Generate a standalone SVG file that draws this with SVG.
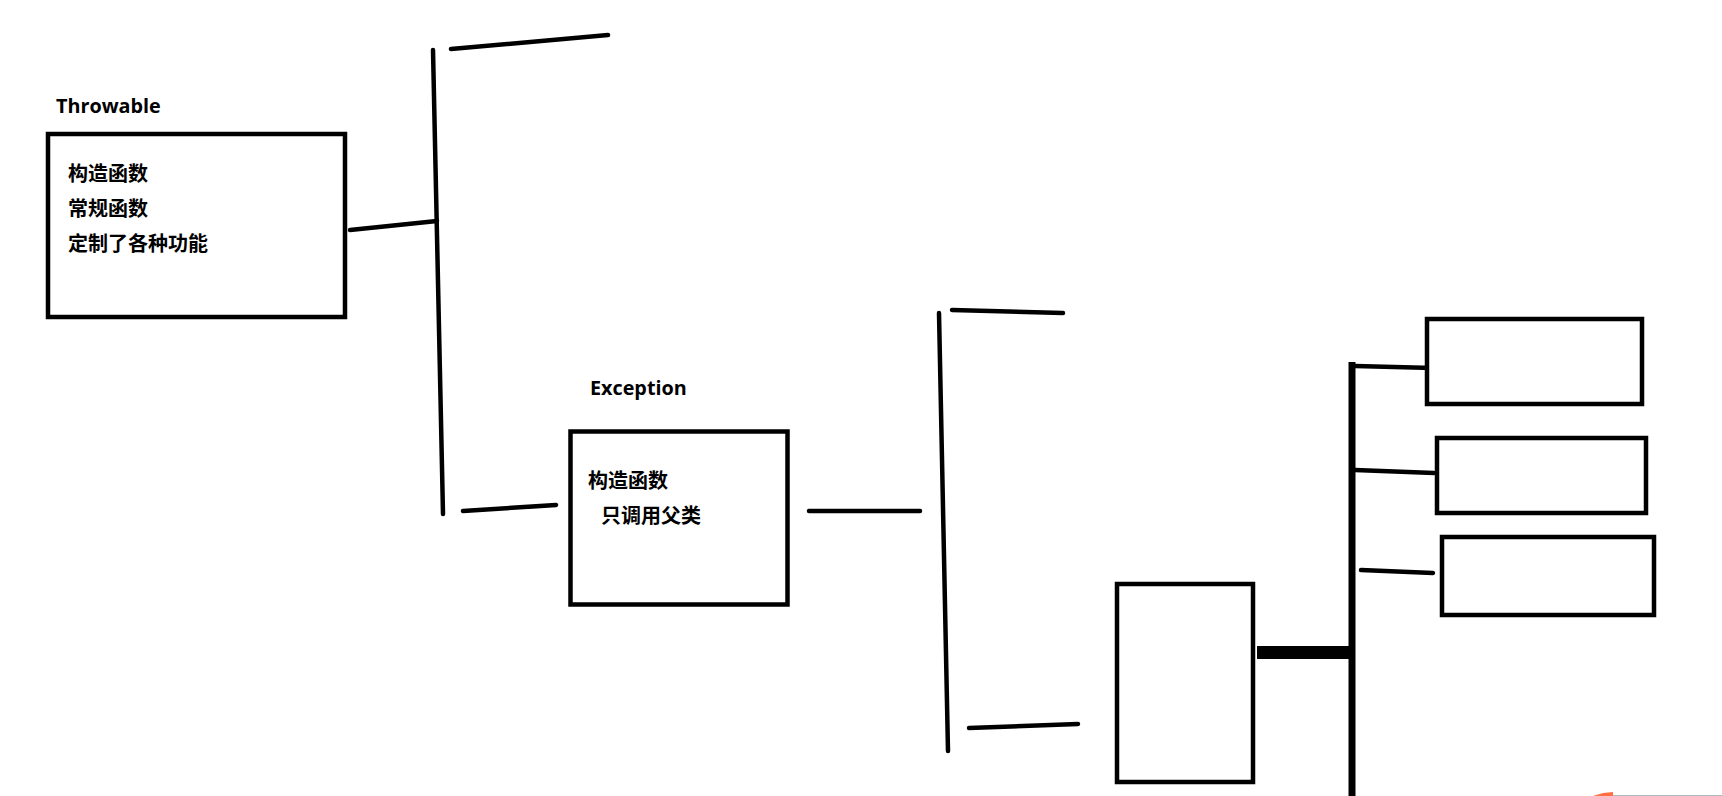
<svg xmlns="http://www.w3.org/2000/svg" width="1722" height="796" viewBox="0 0 1722 796">
<style>
.box{fill:#fff;stroke:#000;stroke-width:4.5}
.ln{fill:none;stroke:#000;stroke-width:4.5;stroke-linecap:round}
.t{font-family:"Noto Sans CJK SC","Noto Sans",sans-serif;font-weight:bold;font-size:20px;fill:#000}
.h{font-family:"Open Sans","Noto Sans",sans-serif;font-weight:bold;font-size:19.8px;fill:#000}
</style>
<rect width="1722" height="796" fill="#fff"/>
<g id="connectors">
<line class="ln" x1="350" y1="230" x2="437" y2="221"/>
<line class="ln" x1="433" y1="50" x2="443" y2="514"/>
<line class="ln" x1="451" y1="49" x2="608" y2="35"/>
<line class="ln" x1="463" y1="511" x2="556" y2="505"/>
<line class="ln" x1="809" y1="511" x2="920" y2="511"/>
<line class="ln" x1="939" y1="313" x2="948" y2="751"/>
<line class="ln" x1="952" y1="310" x2="1063" y2="313"/>
<line class="ln" x1="969" y1="728" x2="1078" y2="724"/>
<line x1="1257" y1="652.5" x2="1350" y2="652.5" stroke="#000" stroke-width="13"/>
<line x1="1352" y1="362" x2="1352" y2="796" stroke="#000" stroke-width="7"/>
<line class="ln" x1="1355" y1="366" x2="1433" y2="368" stroke-linecap="butt"/>
<line class="ln" x1="1355" y1="470" x2="1434" y2="473" stroke-linecap="butt"/>
<line class="ln" x1="1361" y1="570" x2="1433" y2="573"/>
</g>
<g id="throwable">
<rect class="box" x="48" y="134" width="297" height="183"/>
<text class="h" x="56" y="113">Throwable</text>
<text class="t" x="68" y="181">构造函数</text>
<text class="t" x="68" y="216">常规函数</text>
<text class="t" x="68" y="251">定制了各种功能</text>
</g>
<g id="exception">
<rect class="box" x="570.5" y="431.5" width="217" height="173"/>
<text class="h" x="590" y="395">Exception</text>
<text class="t" x="588" y="488">构造函数</text>
<text class="t" x="601" y="523">只调用父类</text>
</g>
<g id="node-left">
<rect class="box" x="1117" y="584" width="136" height="198"/>
</g>
<g id="node-r1">
<rect class="box" x="1427" y="319" width="215" height="85"/>
</g>
<g id="node-r2">
<rect class="box" x="1437" y="438" width="209" height="75"/>
</g>
<g id="node-r3">
<rect class="box" x="1442" y="537" width="212" height="78"/>
</g>
<path d="M1593 796 L1603 793 L1613 792 L1613 796 Z" fill="#ff7043"/>
<line x1="1613" y1="795.5" x2="1722" y2="795.5" stroke="#b0b8c0" stroke-width="1"/>
</svg>
